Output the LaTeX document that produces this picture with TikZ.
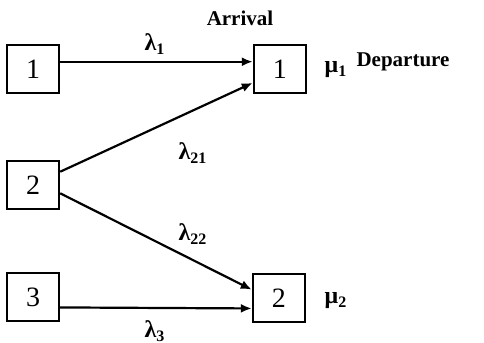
\documentclass[tikz,border=0pt]{standalone}
\usepackage{fontspec}
\setmainfont{Liberation Serif}
\usetikzlibrary{arrows.meta}
\begin{document}
\begin{tikzpicture}[
    x=0.5pt, y=-0.5pt,
    queue/.style={draw=black, line width=1.2pt, minimum width=26pt, minimum height=24pt, inner sep=0pt, font=\fontsize{14}{14}\selectfont},
    flow/.style={draw=black, line width=1.1pt, -{Latex[length=5.5pt, width=4.5pt]}},
    rate/.style={font=\bfseries\fontsize{12}{12}\selectfont},
    caption/.style={font=\bfseries\fontsize{10.5}{10.5}\selectfont}
]
\useasboundingbox (0,0) rectangle (484,343);

% Współrzędne źródeł po lewej stronie
\coordinate (s1) at (33,69);
\coordinate (s2) at (33,185);
\coordinate (s3) at (33,297);

% Współrzędne kolejek po prawej stronie
\coordinate (q1) at (280,69);
\coordinate (q2) at (279,298);

% Rysowanie prostokątnych węzłów
\node[queue] (ns1) at (s1) {1};
\node[queue] (ns2) at (s2) {2};
\node[queue] (ns3) at (s3) {3};
\node[queue] (nq1) at (q1) {1};
\node[queue] (nq2) at (q2) {2};

% Rysowanie strzałek przepływu
\draw[flow] (ns1.15) -- (nq1.165);
\draw[flow] (ns2.26) -- (nq1.-153);
\draw[flow] (ns2.-17) -- (nq2.163);
\draw[flow] (ns3.-21) -- (nq2.-159);

% Dodawanie etykiet intensywności
\node[rate] (l1) at (155,44) {λ\textsubscript{1}};
\node[rate] (l21) at (193,153) {λ\textsubscript{21}};
\node[rate] (l22) at (193,234) {λ\textsubscript{22}};
\node[rate] (l3) at (155,331) {λ\textsubscript{3}};
\node[rate] (m1) at (336,70) {μ\textsubscript{1}};
\node[rate] (m2) at (336,301) {μ\textsubscript{2}};

% Dodawanie opisów
\node[caption] (arr) at (240,18) {Arrival};
\node[caption] (dep) at (403,62) {Departure};

\end{tikzpicture}
\end{document}
